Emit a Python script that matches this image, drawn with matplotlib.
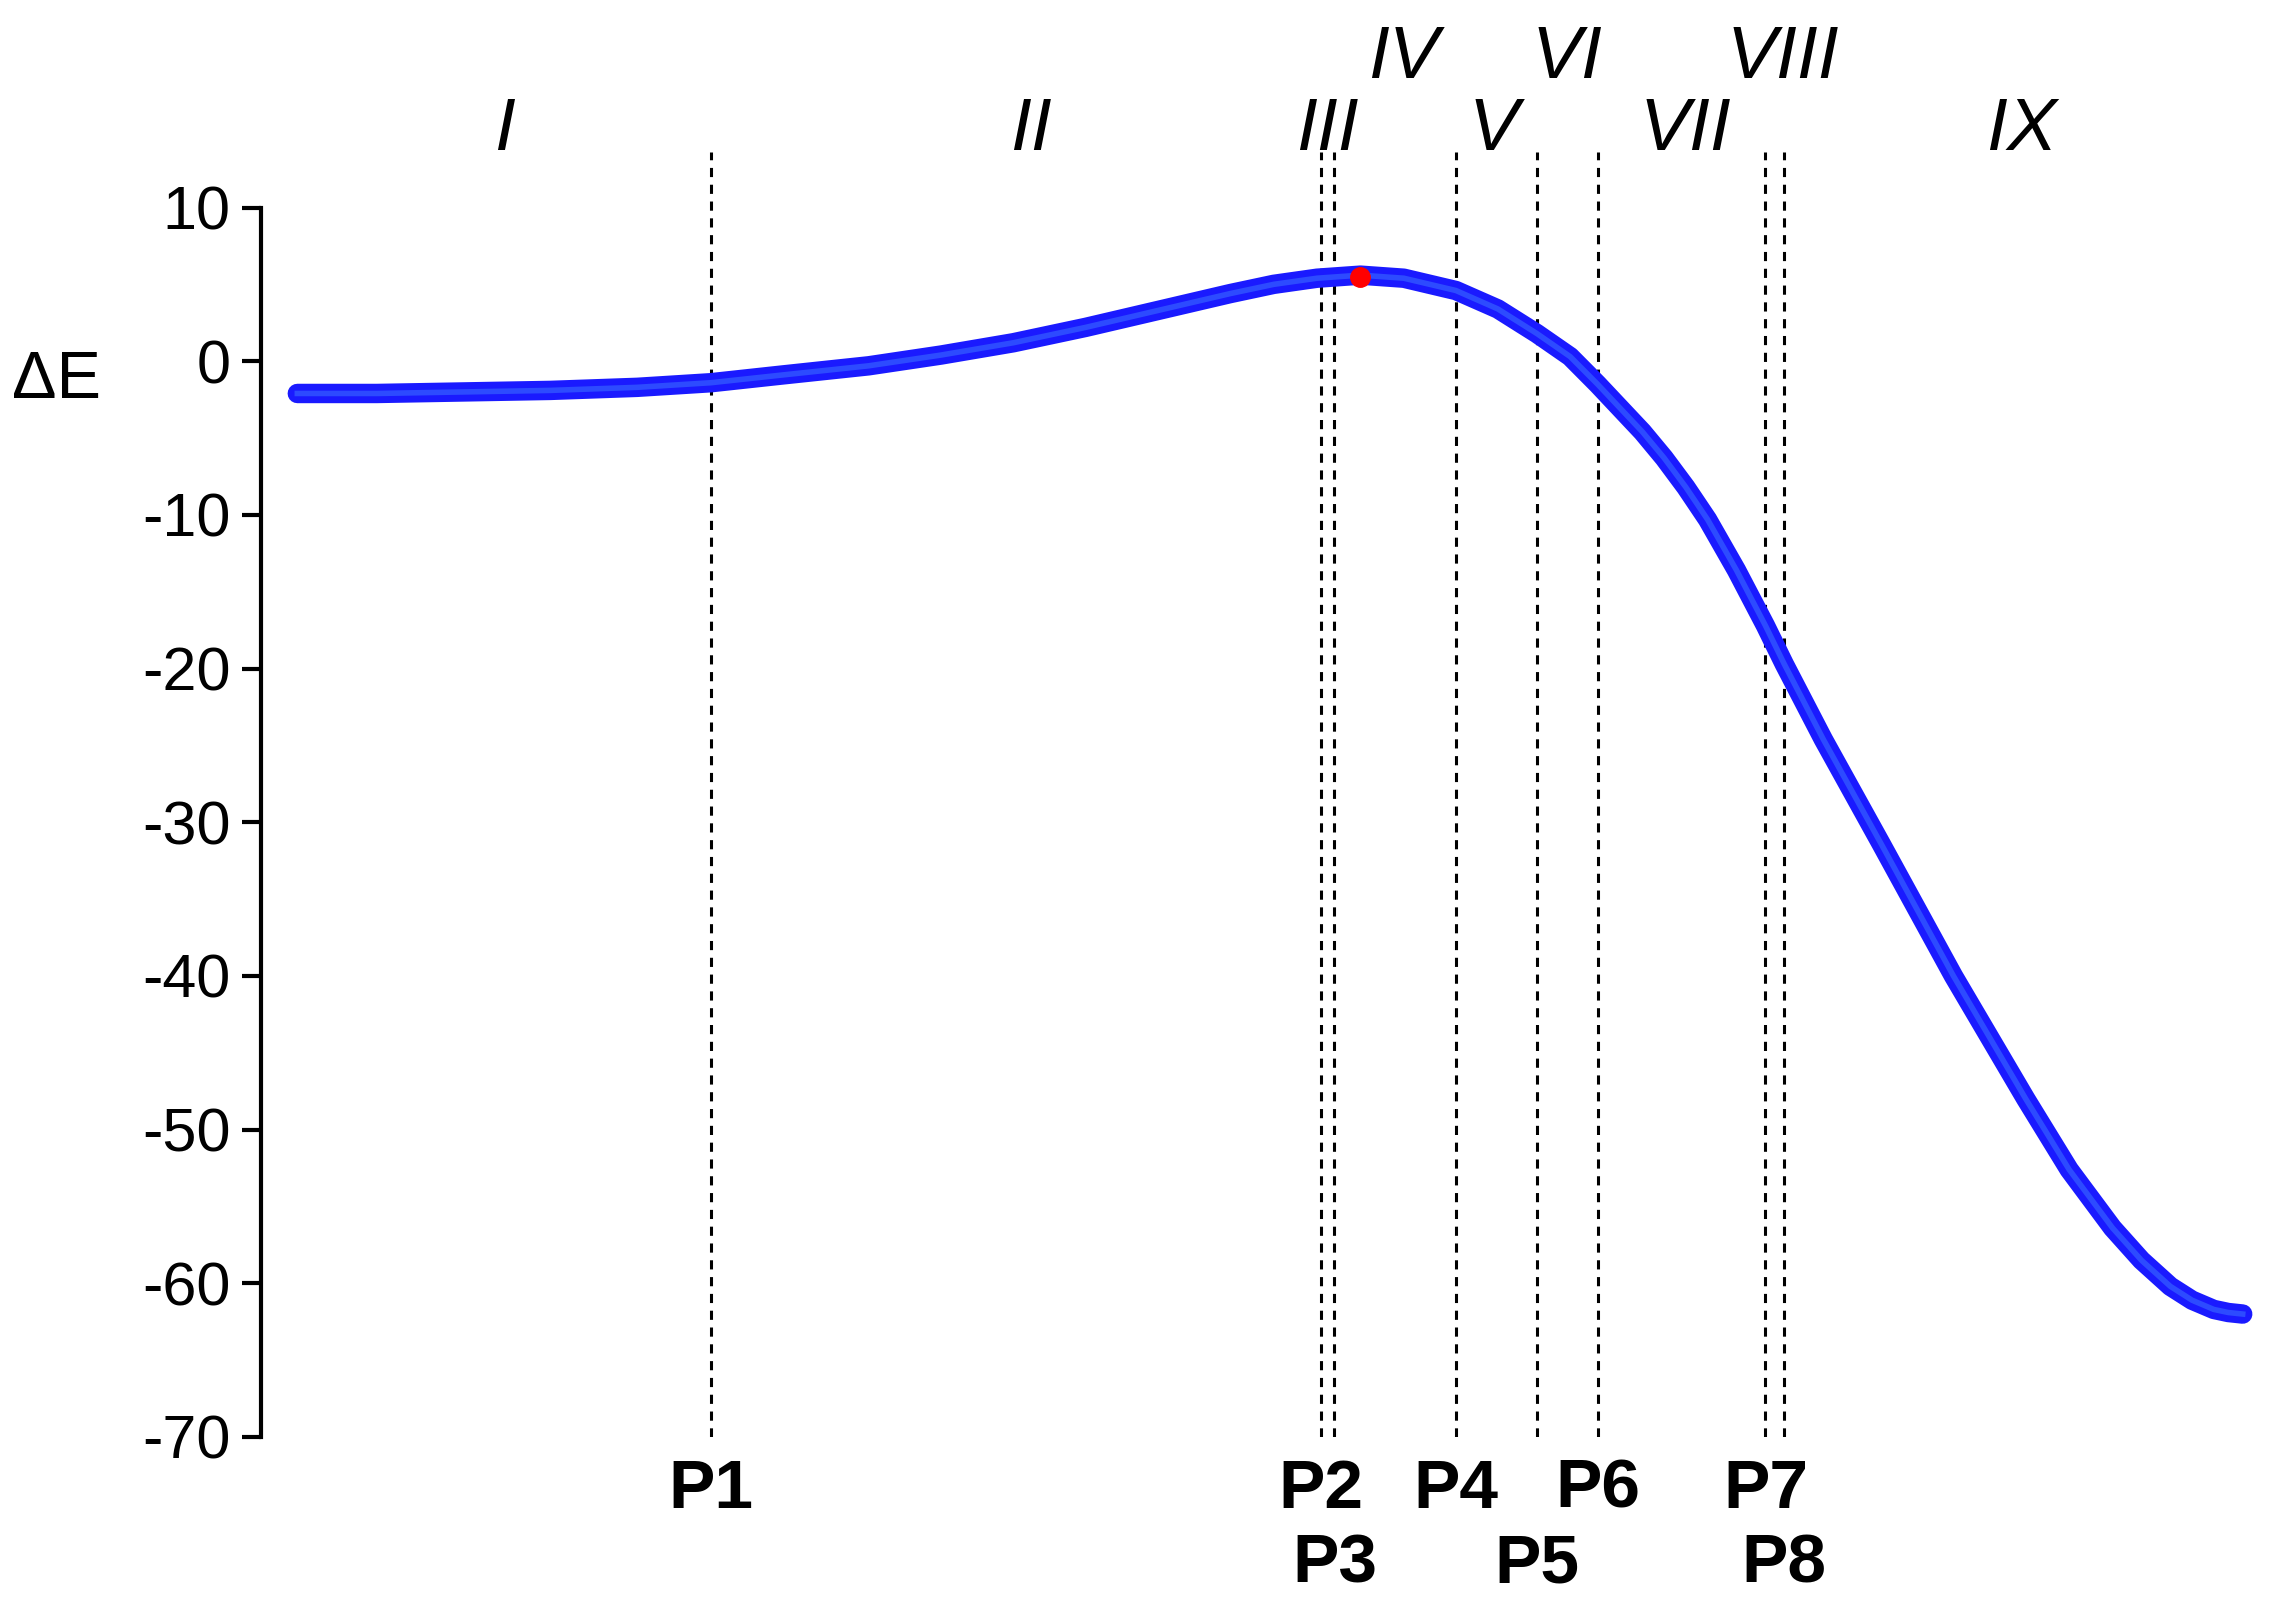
import matplotlib
matplotlib.use("Agg")
import matplotlib.pyplot as plt
import numpy as np

plt.rcParams['font.family'] = ['Liberation Sans', 'DejaVu Sans']
plt.rcParams['axes.unicode_minus'] = False

# reaction coordinate (arbitrary units) and energy
coord = [205, 260, 320, 380, 440, 491, 540, 600, 650, 700, 750, 800, 850, 880, 910, 940, 970, 1006,
         1035, 1062, 1085, 1104, 1120, 1135, 1150, 1165, 1180, 1200, 1220, 1233, 1260, 1300, 1350, 1400,
         1430, 1460, 1480, 1500, 1515, 1530, 1540, 1550]
energy = [-2.1, -2.1, -2.0, -1.9, -1.7, -1.4, -0.9, -0.3, 0.4, 1.2, 2.2, 3.3, 4.4, 5.0, 5.4, 5.6, 5.4, 4.6,
          3.4, 1.8, 0.3, -1.5, -3.1, -4.6, -6.3, -8.2, -10.3, -13.6, -17.2, -19.7, -24.6, -31.4, -40.0, -48.0,
          -52.6, -56.4, -58.5, -60.2, -61.1, -61.7, -61.9, -62.0]
ts_x, ts_y = 940, 5.5

p_names = ['P1', 'P2', 'P3', 'P4', 'P5', 'P6', 'P7', 'P8']
p_x = [491, 913, 922, 1006, 1062, 1104, 1220, 1233]
p_row = [0, 0, 1, 0, 1, 0, 0, 1]

roman = ['I', 'II', 'III', 'IV', 'V', 'VI', 'VII', 'VIII', 'IX']
roman_x = [348, 712, 917, 970, 1032, 1083, 1165, 1232, 1397]
roman_row = [0, 0, 0, 1, 0, 1, 0, 1, 0]

fig = plt.figure(figsize=(22.71, 16.02), dpi=100)
ax = fig.add_axes([0.115, 0.103, 0.877, 0.802])
ax.set_xlim(180, 1557)
ax.set_ylim(-70, 13.6)

for x in p_x:
    ax.plot([x, x], [-70, 13.6], ls=(0, (3, 2.5)), color='black', lw=2.2, zorder=1)

ax.plot(coord, energy, color='#1a1aff', lw=14, solid_capstyle='round', zorder=2)
ax.plot(coord, energy, color='#3a6cff', lw=4, alpha=0.6, zorder=3)
ax.plot([ts_x], [ts_y], 'o', color='red', ms=14, zorder=4)

for s in ['top', 'right', 'bottom']:
    ax.spines[s].set_visible(False)
ax.spines['left'].set_bounds(-70, 10)
ax.spines['left'].set_linewidth(3)
ax.set_xticks([])
ax.set_yticks(np.arange(-70, 11, 10))
ax.tick_params(axis='y', labelsize=44, width=3, length=14, pad=8)
ax.text(-0.125, 0.822, 'ΔE', transform=ax.transAxes, fontsize=48, ha='left', va='center')

tr = ax.get_xaxis_transform()
for n, x, r in zip(roman, roman_x, roman_row):
    ax.text(x, 1.017 + r * 0.056, n, transform=tr, fontsize=54, style='italic', ha='center', va='center')
for n, x, r in zip(p_names, p_x, p_row):
    ax.text(x, -0.041 - r * 0.058, n, transform=tr, fontsize=50, weight='bold', ha='center', va='center')

fig.savefig('out.png', dpi=100)
